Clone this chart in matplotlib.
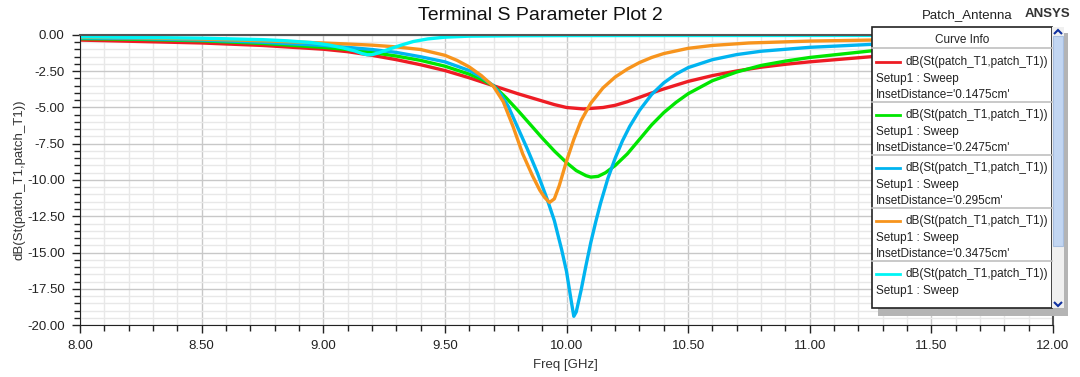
import numpy as np
import matplotlib.pyplot as plt
from matplotlib.patches import Rectangle, Polygon
from matplotlib.ticker import MultipleLocator

plt.rcParams['font.family'] = ['Liberation Sans', 'DejaVu Sans']

# (GHz, dB)
f_red = [8.0, 8.25, 8.5, 8.75, 9.0, 9.1, 9.2, 9.3, 9.4, 9.5, 9.6, 9.7, 9.8, 9.9, 9.95,
         10.0, 10.07, 10.15, 10.2, 10.25, 10.3, 10.35, 10.4, 10.5, 10.6, 10.7, 10.8, 10.9,
         11.0, 11.25, 11.5, 11.75, 12.0]
s_red = [-0.35, -0.45, -0.55, -0.72, -0.98, -1.15, -1.4, -1.7, -2.05, -2.45, -2.95, -3.5, -4.05, -4.55, -4.8,
         -5.0, -5.1, -5.0, -4.85, -4.6, -4.3, -4.0, -3.72, -3.2, -2.8, -2.48, -2.22, -2.02,
         -1.85, -1.5, -1.27, -1.1, -0.98]

f_green = [8.0, 8.25, 8.5, 8.75, 9.0, 9.1, 9.2, 9.3, 9.4, 9.5, 9.6, 9.65, 9.7, 9.75, 9.8, 9.85,
           9.9, 9.95, 10.0, 10.04, 10.08, 10.1, 10.13, 10.16, 10.2, 10.25, 10.3, 10.35, 10.4,
           10.45, 10.5, 10.6, 10.7, 10.8, 10.9, 11.0, 11.25, 11.5, 11.75, 12.0]
s_green = [-0.25, -0.3, -0.4, -0.58, -0.85, -1.0, -1.2, -1.45, -1.75, -2.15, -2.7, -3.05, -3.5, -4.3, -5.2, -6.15,
           -7.1, -8.0, -8.8, -9.35, -9.7, -9.8, -9.75, -9.5, -9.0, -8.2, -7.2, -6.2, -5.35,
           -4.65, -4.05, -3.15, -2.55, -2.1, -1.8, -1.55, -1.1, -0.85, -0.7, -0.6]

f_blue = [8.0, 8.25, 8.5, 8.75, 9.0, 9.1, 9.2, 9.3, 9.4, 9.5, 9.6, 9.65, 9.7, 9.73, 9.76, 9.8,
          9.84, 9.88, 9.92, 9.95, 9.98, 10.0, 10.02, 10.03, 10.04, 10.06, 10.08, 10.1, 10.12,
          10.14, 10.17, 10.2, 10.23, 10.26, 10.3, 10.35, 10.4, 10.45, 10.5, 10.6, 10.7, 10.8,
          11.0, 11.25, 11.5, 11.75, 12.0]
s_blue = [-0.2, -0.25, -0.35, -0.5, -0.72, -0.85, -1.0, -1.2, -1.5, -1.85, -2.45, -2.9, -3.5, -4.1, -4.9, -6.4,
          -7.9, -9.5, -11.3, -12.8, -14.8, -16.3, -18.4, -19.4, -19.1, -17.6, -15.9, -14.3, -12.9,
          -11.6, -9.9, -8.5, -7.3, -6.3, -5.2, -4.1, -3.3, -2.7, -2.25, -1.7, -1.35, -1.12,
          -0.85, -0.65, -0.5, -0.42, -0.35]

f_orange = [8.0, 8.25, 8.5, 8.75, 9.0, 9.1, 9.2, 9.3, 9.4, 9.5, 9.55, 9.6, 9.65, 9.7, 9.74, 9.78,
            9.82, 9.86, 9.89, 9.91, 9.93, 9.95, 9.97, 10.0, 10.03, 10.06, 10.1, 10.15, 10.2,
            10.25, 10.3, 10.35, 10.4, 10.5, 10.6, 10.75, 11.0, 11.25, 11.5, 12.0]
s_orange = [-0.15, -0.2, -0.28, -0.4, -0.55, -0.62, -0.7, -0.82, -1.0, -1.4, -1.75, -2.2, -2.8, -3.55, -4.6, -6.3,
            -8.2, -9.7, -10.7, -11.2, -11.55, -11.3, -10.4, -8.7, -7.2, -5.9, -4.7, -3.65, -2.9,
            -2.35, -1.9, -1.55, -1.28, -0.92, -0.72, -0.55, -0.42, -0.35, -0.3, -0.25]

f_cyan = [8.0, 8.25, 8.5, 8.75, 8.85, 8.95, 9.02, 9.08, 9.13, 9.16, 9.18, 9.2, 9.23, 9.27,
          9.32, 9.37, 9.43, 9.5, 9.6, 9.8, 10.0, 11.0, 12.0]
s_cyan = [-0.12, -0.17, -0.22, -0.32, -0.4, -0.52, -0.68, -0.88, -1.1, -1.28, -1.36, -1.36, -1.22, -0.98,
          -0.7, -0.45, -0.27, -0.15, -0.08, -0.05, -0.04, -0.03, -0.02]

series = [
    (f_red, s_red, '#ee1c24', "InsetDistance='0.1475cm'"),
    (f_green, s_green, '#00e600', "InsetDistance='0.2475cm'"),
    (f_blue, s_blue, '#00b4f0', "InsetDistance='0.295cm'"),
    (f_orange, s_orange, '#f7941d', "InsetDistance='0.3475cm'"),
    (f_cyan, s_cyan, '#00f5f5', None),
]

W, H = 1080, 377
fig = plt.figure(figsize=(W / 100, H / 100), dpi=100)
ax = fig.add_axes([80 / W, 1 - 325 / H, (1053 - 80) / W, (325 - 35) / H])

for f, s, c, _ in series:
    ax.plot(f, s, color=c, lw=2.4, solid_joinstyle='round')

ax.set_xlim(8.0, 12.0)
ax.set_ylim(-20.0, 0.0)
ax.xaxis.set_major_locator(MultipleLocator(0.5))
ax.xaxis.set_minor_locator(MultipleLocator(0.1))
ax.yaxis.set_major_locator(MultipleLocator(2.5))
ax.yaxis.set_minor_locator(MultipleLocator(0.5))
ax.xaxis.set_major_formatter(lambda v, p: f'{v:.2f}')
ax.yaxis.set_major_formatter(lambda v, p: f'{v:.2f}')
ax.grid(which='major', color='#c8c8c8', lw=1.0)
ax.grid(which='minor', color='#e8e8e8', lw=1.0)
ax.set_axisbelow(True)
ax.tick_params(which='major', direction='out', length=6, width=1, labelsize=9.5,
               colors='#222222', pad=5)
ax.tick_params(which='minor', direction='out', length=4, width=1, color='#222222')
for sp in ['left', 'bottom']:
    ax.spines[sp].set_color('#222222')
for sp in ['top', 'right']:
    ax.spines[sp].set_color('#555555')
    ax.spines[sp].set_linewidth(1.5)

fig.text(565 / W, 1 - 365 / H, 'Freq [GHz]', ha='center', va='center', fontsize=9.5, color='#333333')
fig.text(20 / W, 1 - 180 / H, 'dB(St(patch_T1,patch_T1))', ha='center', va='center',
         rotation=90, fontsize=9.5, color='#333333')
fig.text(540 / W, 1 - 15 / H, 'Terminal S Parameter Plot 2', ha='center', va='center',
         fontsize=14, color='#111111')
fig.text(967 / W, 1 - 15 / H, 'Patch_Antenna', ha='center', va='center', fontsize=9.5, color='#222222')
fig.text(1047 / W, 1 - 14 / H, 'ANSYS', ha='center', va='center', fontsize=9.5,
         fontweight='bold', color='#333333')

# legend panel drawn in pixel coordinates
lg = fig.add_axes([0, 0, 1, 1])
lg.set_xlim(0, W)
lg.set_ylim(H, 0)
lg.axis('off')
lg.add_patch(Rectangle((878, 33), 190, 283, facecolor='#b4b4b4', edgecolor='none', zorder=1))
lg.add_patch(Rectangle((872, 27), 180, 281, facecolor='white', edgecolor='#222222', lw=1.2, zorder=2))
lg.add_patch(Rectangle((1052, 27), 12, 281, facecolor='#f0f0f0', edgecolor='none', zorder=2))
lg.add_patch(Rectangle((1053, 36), 10, 210, facecolor='#c2d6f2', edgecolor='#a8bfe0', lw=0.8, zorder=3))
lg.add_patch(Polygon([[1054, 34], [1058, 30], [1062, 34]], closed=False, fill=False,
                     edgecolor='#1030a0', lw=1.5, zorder=4))
lg.add_patch(Polygon([[1054, 302], [1058, 306], [1062, 302]], closed=False, fill=False,
                     edgecolor='#1030a0', lw=1.5, zorder=4))
lg.text(962, 40, 'Curve Info', ha='center', va='center', fontsize=8.5, color='#222222', zorder=5)
lg.plot([872, 1052], [48, 48], color='#c0c0c0', lw=1.2, zorder=4)
for k, (_, _, c, inset) in enumerate(series):
    y0 = 62 + 53 * k
    lg.plot([876, 900], [y0, y0], color=c, lw=2, zorder=5)
    lg.text(1048, y0, 'dB(St(patch_T1,patch_T1))', ha='right', va='center', fontsize=8.5,
            color='#222222', zorder=5)
    lg.text(876, y0 + 17, 'Setup1 : Sweep', ha='left', va='center', fontsize=8.5,
            color='#222222', zorder=5)
    if inset:
        lg.text(876, y0 + 33, inset, ha='left', va='center', fontsize=8.5, color='#222222', zorder=5)
        lg.plot([872, 1052], [y0 + 40, y0 + 40], color='#c0c0c0', lw=1.2, zorder=4)

fig.savefig('out.png', dpi=100)
